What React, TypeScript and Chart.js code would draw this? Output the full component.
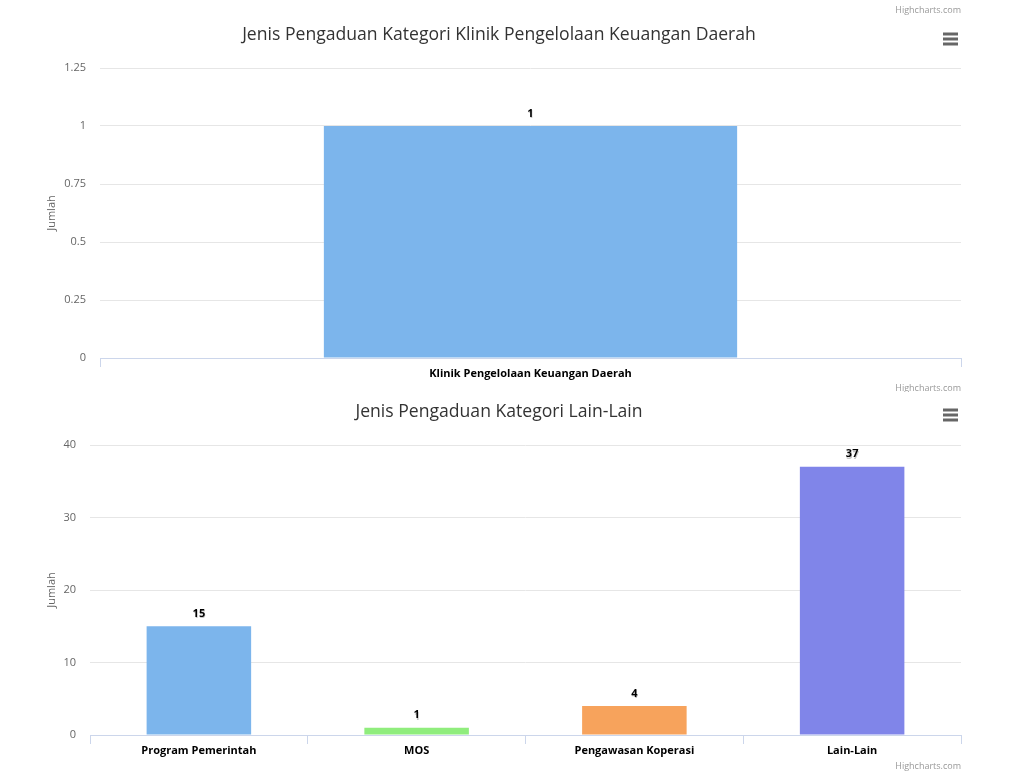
import React, { useEffect, useRef } from "react";
import { Chart, registerables } from "chart.js";

Chart.register(...registerables);

// ---- data ----
const chart1Title = "Jenis Pengaduan Kategori Klinik Pengelolaan Keuangan Daerah";
const chart1Categories = ["Klinik Pengelolaan Keuangan Daerah"];
const chart1Values = [1];
const chart1Colors = ["#7cb5ec"];
const chart1YMax = 1.25;
const chart1YStep = 0.25;

const chart2Title = "Jenis Pengaduan Kategori Lain-Lain";
const chart2Categories = ["Program Pemerintah", "MOS", "Pengawasan Koperasi", "Lain-Lain"];
const chart2Values = [15, 1, 4, 37];
const chart2Colors = ["#7cb5ec", "#90ed7d", "#f7a35c", "#8085e9"];
const chart2YMax = 40;
const chart2YStep = 10;

const yAxisTitle = "Jumlah";
const creditsText = "Highcharts.com";

const FONT = "'Open Sans', 'DejaVu Sans', sans-serif";

type PanelProps = {
  top: number;
  height: number;
  title: string;
  categories: string[];
  values: number[];
  colors: string[];
  yMax: number;
  yStep: number;
  plotLeft: number;
  plotTop: number;
  plotBottom: number;
  titleY: number;
  creditYs: number[];
  menuY: number;
};

const W = 1013;
const PLOT_RIGHT = 961;

function BarPanel(p: PanelProps) {
  const ref = useRef<HTMLCanvasElement | null>(null);
  useEffect(() => {
    if (!ref.current) return;
    const decor = {
      id: "decor",
      afterDraw(chart: any) {
        const ctx = chart.ctx;
        const area = chart.chartArea;
        ctx.save();
        // title
        ctx.fillStyle = "#333333";
        ctx.font = `17.6px ${FONT}`;
        ctx.textAlign = "center";
        ctx.textBaseline = "middle";
        ctx.fillText(p.title, 499, p.titleY);
        // credits
        ctx.fillStyle = "#999999";
        ctx.font = `9px ${FONT}`;
        ctx.textAlign = "right";
        p.creditYs.forEach((y) => ctx.fillText(creditsText, PLOT_RIGHT, y));
        // menu icon
        ctx.strokeStyle = "#666666";
        ctx.lineWidth = 3;
        for (let i = 0; i < 3; i++) {
          const y = p.menuY + i * 5;
          ctx.beginPath();
          ctx.moveTo(943, y);
          ctx.lineTo(958, y);
          ctx.stroke();
        }
        // y axis title
        ctx.fillStyle = "#666666";
        ctx.font = `11px ${FONT}`;
        ctx.translate(52, (area.top + area.bottom) / 2);
        ctx.rotate(-Math.PI / 2);
        ctx.textAlign = "center";
        ctx.textBaseline = "middle";
        ctx.fillText(yAxisTitle, 0, 0);
        ctx.restore();

        // data labels
        ctx.save();
        const meta = chart.getDatasetMeta(0);
        ctx.font = `bold 11px ${FONT}`;
        ctx.textAlign = "center";
        ctx.textBaseline = "middle";
        meta.data.forEach((el: any, i: number) => {
          const txt = String(chart.data.datasets[0].data[i]);
          ctx.fillStyle = "rgba(160,160,160,0.6)";
          ctx.fillText(txt, el.x + 0.5, el.y - 11);
          ctx.fillStyle = "#000000";
          ctx.fillText(txt, el.x, el.y - 12.5);
        });
        ctx.restore();
      },
    };

    const chart = new Chart(ref.current, {
      type: "bar",
      data: {
        labels: p.categories,
        datasets: [
          {
            data: p.values,
            backgroundColor: p.colors,
            borderWidth: 0,
            categoryPercentage: 0.6,
            barPercentage: 0.8,
          },
        ],
      },
      options: {
        responsive: false,
        animation: false,
        events: [],
        layout: {
          padding: { left: 0, right: W - PLOT_RIGHT, top: p.plotTop, bottom: 0 },
        },
        plugins: {
          legend: { display: false },
          tooltip: { enabled: false },
          title: { display: false },
        },
        scales: {
          x: {
            grid: {
              display: true,
              drawOnChartArea: false,
              drawTicks: true,
              tickLength: 9,
              color: "#ccd6eb",
              offset: true,
            },
            border: { display: true, color: "#ccd6eb", width: 1 },
            ticks: {
              font: { family: FONT, size: 11, weight: "bold" },
              color: "#000000",
              padding: 0,
              maxRotation: 0,
            },
            afterFit(scale: any) {
              scale.height = p.height - p.plotBottom;
            },
          },
          y: {
            min: 0,
            max: p.yMax,
            grid: {
              color: (c: any) => (c.tick && c.tick.value === 0 ? "rgba(0,0,0,0)" : "#e6e6e6"),
              drawTicks: false,
              lineWidth: 1,
            },
            border: { display: false },
            ticks: {
              stepSize: p.yStep,
              font: { family: FONT, size: 11 },
              color: "#666666",
              padding: 14,
              callback: (v: any) => String(v),
            },
            afterFit(scale: any) {
              scale.width = p.plotLeft;
            },
          },
        },
      },
      plugins: [decor],
    });
    return () => chart.destroy();
  }, []);
  return (
    <canvas
      ref={ref}
      width={W}
      height={p.height}
      style={{ position: "absolute", left: 0, top: p.top, width: W, height: p.height }}
    />
  );
}

export default function App() {
  return (
    <div style={{ position: "absolute", left: 0, top: 0, width: W, height: 774, background: "#ffffff" }}>
      <BarPanel
        top={0}
        height={392}
        title={chart1Title}
        categories={chart1Categories}
        values={chart1Values}
        colors={chart1Colors}
        yMax={chart1YMax}
        yStep={chart1YStep}
        plotLeft={100}
        plotTop={68}
        plotBottom={358}
        titleY={35}
        creditYs={[10, 388]}
        menuY={34}
      />
      <BarPanel
        top={392}
        height={382}
        title={chart2Title}
        categories={chart2Categories}
        values={chart2Values}
        colors={chart2Colors}
        yMax={chart2YMax}
        yStep={chart2YStep}
        plotLeft={90}
        plotTop={53}
        plotBottom={343}
        titleY={20}
        creditYs={[374]}
        menuY={18}
      />
    </div>
  );
}
